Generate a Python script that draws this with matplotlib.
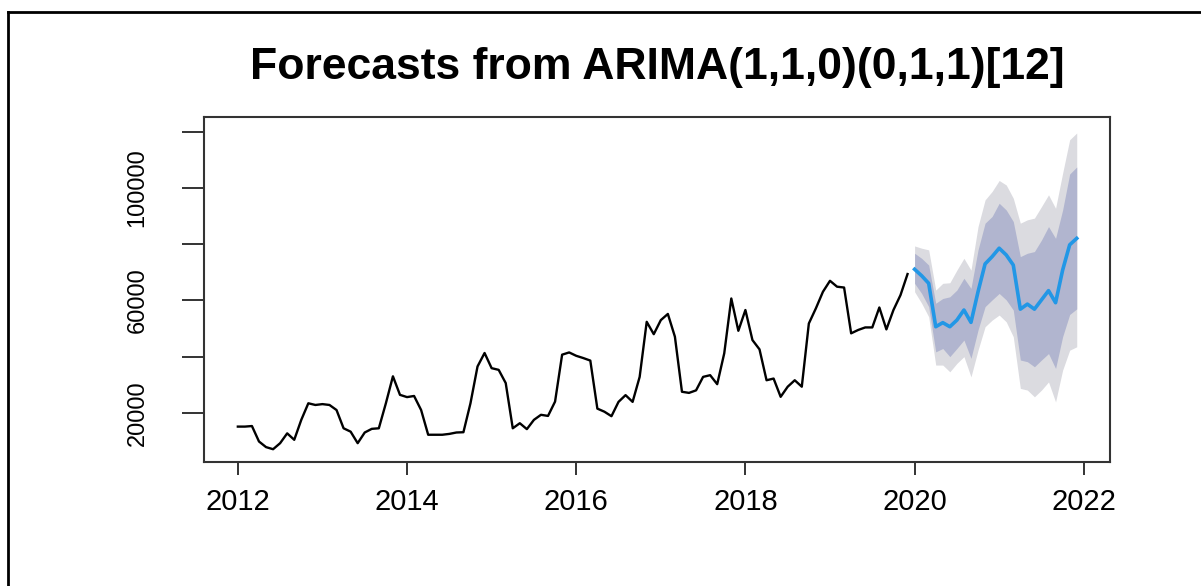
import matplotlib.pyplot as plt
import numpy as np
from matplotlib.lines import Line2D

# monthly series, Jan 2012 .. Dec 2019
observed = [
    15100, 15100, 15300, 9800, 7800, 7050, 9200, 12700, 10400, 17500, 23400, 22800,
    23100, 22800, 21000, 14500, 13300, 9200, 13000, 14300, 14500, 23400, 33000, 26400,
    25600, 26000, 21000, 12200, 12200, 12200, 12500, 13000, 13100, 23400, 36500, 41300,
    35900, 35300, 30600, 14500, 16300, 14200, 17500, 19300, 18900, 24000, 40700, 41500,
    40300, 39500, 38600, 21500, 20400, 18800, 23900, 26300, 23900, 32800, 52400, 48000,
    53000, 55200, 47100, 27500, 27100, 28000, 32800, 33400, 30200, 41200, 60700, 49200,
    56600, 45900, 42600, 31600, 32200, 25700, 29300, 31600, 29300, 51800, 57200, 63100,
    67000, 64900, 64600, 48300, 49500, 50400, 50400, 57500, 49700, 56600, 61900, 69400,
]

# point forecasts and prediction intervals, Jan 2020 .. Dec 2021
fc_mean = [71100, 68800, 66100, 50650, 52100, 50650, 53000, 56600, 52200, 63100, 73000, 75600,
           78600, 76200, 72600, 56900, 58700, 56900, 60200, 63500, 59200, 70800, 79800, 82100]
lo80 = [66100, 62500, 57800, 41700, 42900, 40000, 42900, 45900, 39400, 49500, 57800, 60200,
        62500, 60200, 56600, 38800, 38200, 36400, 38800, 41100, 35800, 47100, 55000, 57000]
hi80 = [76800, 75000, 72600, 59000, 60700, 61300, 63700, 67900, 64300, 78000, 87500, 89900,
        94600, 92200, 88100, 75600, 76800, 77400, 81500, 86300, 82100, 92200, 105000, 107500]
lo95 = [63100, 59000, 54200, 37000, 37000, 34600, 37600, 40000, 32800, 42300, 50650, 53000,
        54800, 52400, 47100, 28700, 28100, 25700, 28100, 31000, 23900, 35200, 42300, 43500]
hi95 = [79400, 78600, 78000, 63700, 66100, 66300, 70800, 75000, 70800, 86300, 95800, 98800,
        102700, 101100, 96400, 87500, 88700, 89300, 93400, 97600, 92800, 105300, 117200, 119600]

start_year = 2012
x_ticks = [2012, 2014, 2016, 2018, 2020, 2022]
y_ticks = [20000, 40000, 60000, 80000, 100000, 120000]
y_labels = ['20000', '', '60000', '', '100000', '']
title = 'Forecasts from ARIMA(1,1,0)(0,1,1)[12]'

plt.rcParams['font.family'] = ['Liberation Sans', 'DejaVu Sans']

t_obs = start_year + np.arange(len(observed)) / 12
t_fc = start_year + (len(observed) + np.arange(len(fc_mean))) / 12

fig = plt.figure(figsize=(12.01, 5.86), dpi=100)
ax = fig.add_axes([204 / 1201, 1 - 462 / 586, 906 / 1201, 345 / 586])

ax.fill_between(t_fc, lo95, hi95, color='#dbdbe0', linewidth=0)
ax.fill_between(t_fc, lo80, hi80, color='#b1b5cf', linewidth=0)
ax.plot(t_obs, observed, color='black', linewidth=1.7)
ax.plot(t_fc, fc_mean, color='#2297e6', linewidth=2.6)

ax.set_xlim(2011.6, 2022.31)
ax.set_ylim(2500, 125300)

ax.set_xticks(x_ticks)
ax.set_xticklabels([str(x) for x in x_ticks])
ax.set_yticks(y_ticks)
ax.set_yticklabels(y_labels, rotation=90, va='center')

ax.tick_params(axis='x', length=9, width=1.4, color='#333333', pad=10, labelsize=21)
ax.tick_params(axis='y', length=16, width=1.4, color='#333333', pad=24, labelsize=17)
for s in ax.spines.values():
    s.set_color('#333333')
    s.set_linewidth(1.5)

fig.text(657 / 1201, 1 - 67 / 586, title, ha='center', va='center',
         fontsize=32, fontweight='bold')

# outer frame, only top and left edges fall inside the image
fig.add_artist(Line2D([7.5 / 1201, 1], [1 - 12 / 586, 1 - 12 / 586],
                      transform=fig.transFigure, color='black', linewidth=2))
fig.add_artist(Line2D([7.5 / 1201, 7.5 / 1201], [0, 1 - 12 / 586],
                      transform=fig.transFigure, color='black', linewidth=2))

fig.savefig('out.png', dpi=100)
